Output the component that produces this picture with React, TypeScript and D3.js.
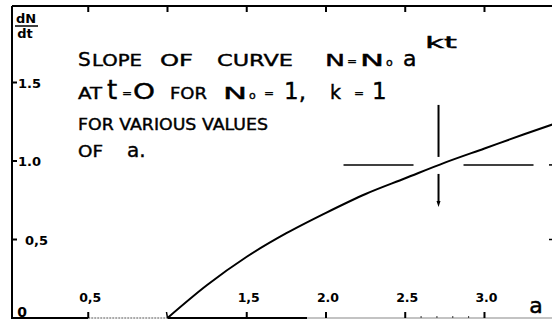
import React from "react";
import * as d3 from "d3";

// Slope of N = N0·a^(kt) at t = 0, read against a
const aValues = [1.0, 1.25, 1.5, 1.75, 2.0, 2.25, 2.5, 2.75, 3.0, 3.25, 3.45];
const slopeValues = [0.0, 0.21, 0.39, 0.54, 0.67, 0.79, 0.89, 0.99, 1.08, 1.17, 1.24];

const xTickValues = [0.5, 1.0, 1.5, 2.0, 2.5, 3.0];
const xTickLabels = ["0,5", "", "1,5", "2.0", "2.5", "3.0"];
const yTickValues = [0.5, 1.0, 1.5];
const yTickLabels = ["0,5", "1.0", "1.5"];
const minorTicks = [2.6, 2.7, 2.8, 2.9];

// crossing point marked on the curve
const crossA = 2.71;
const crossV = 0.975;

const W = 552;
const H = 320;
const FONT = "'DejaVu Sans', sans-serif";

export default function App() {
  const x = d3.scaleLinear().domain([0, 3.426]).range([9, W]);
  const y = d3.scaleLinear().domain([0, 1.5]).range([318, 82.5]);
  const left = 12;
  const top = 6;
  const bottom = 318;

  const line = d3
    .line<number>()
    .x((_, i) => x(aValues[i]))
    .y((d) => y(d))
    .curve(d3.curveMonotoneX);

  const cx = x(crossA);
  const cy = y(crossV);
  const tipX = x(aValues[0]);

  return (
    <div style={{ position: "absolute", left: 0, top: 0, width: W, height: H, background: "#fff" }}>
      <svg width={W} height={H} style={{ display: "block" }}>
        <rect width={W} height={H} fill="#fff" />
        {/* frame */}
        <line x1={left} y1={top} x2={W} y2={top} stroke="#000" strokeWidth={2} />
        <line x1={left} y1={top} x2={left} y2={bottom + 1} stroke="#000" strokeWidth={2} />
        <line x1={left} y1={bottom} x2={x(0.5)} y2={bottom} stroke="#000" strokeWidth={2} />
        <line x1={x(0.5)} y1={bottom} x2={tipX} y2={bottom} stroke="#555" strokeWidth={1.2} strokeDasharray="2 1" />
        <line x1={tipX} y1={bottom} x2={307} y2={bottom} stroke="#000" strokeWidth={2} />
        <line x1={307} y1={bottom} x2={W} y2={bottom} stroke="#888" strokeWidth={1.2} />

        {/* top ticks */}
        {xTickValues.map((v) => (
          <line key={"tt" + v} x1={x(v)} y1={top} x2={x(v)} y2={top + 6} stroke="#000" strokeWidth={2} />
        ))}
        {/* bottom ticks */}
        {xTickValues
          .filter((v) => v !== 1.0)
          .map((v) => (
            <line key={"bt" + v} x1={x(v)} y1={bottom} x2={x(v)} y2={bottom - 6} stroke="#000" strokeWidth={2} />
          ))}
        {minorTicks.map((v) => (
          <line key={"mt" + v} x1={x(v)} y1={bottom} x2={x(v)} y2={bottom - 2} stroke="#333" strokeWidth={1} />
        ))}
        {xTickValues.map((v, i) =>
          xTickLabels[i] ? (
            <text
              key={"xl" + v}
              x={x(v) + 2}
              y={302}
              textAnchor="middle"
              fontFamily={FONT}
              fontWeight="bold"
              fontSize={12.5}
            >
              {xTickLabels[i]}
            </text>
          ) : null
        )}
        <text x={536} y={313} textAnchor="middle" fontFamily={FONT} fontSize={22} stroke="#000" strokeWidth={0.5}>
          a
        </text>

        {/* left ticks */}
        {yTickValues.map((v, i) => (
          <g key={"yt" + v}>
            <line x1={left} y1={y(v)} x2={left + 5} y2={y(v)} stroke="#000" strokeWidth={2} />
            <text
              x={v === 0.5 ? 25 : 18}
              y={y(v) + 5}
              fontFamily={FONT}
              fontWeight="bold"
              fontSize={13}
            >
              {yTickLabels[i]}
            </text>
          </g>
        ))}
        <text x={22} y={317} textAnchor="middle" fontFamily={FONT} fontWeight="bold" fontSize={14}>
          0
        </text>
        {/* right edge ticks */}
        {[crossV, 0.5].map((v) => (
          <line key={"rt" + v} x1={W - 3} y1={y(v)} x2={W} y2={y(v)} stroke="#000" strokeWidth={1.5} />
        ))}

        {/* dN/dt */}
        <text x={26} y={23} textAnchor="middle" fontFamily={FONT} fontWeight="bold" fontSize={13}>
          dN
        </text>
        <line x1={15} y1={26} x2={38} y2={26} stroke="#000" strokeWidth={1.5} />
        <text x={25} y={38} textAnchor="middle" fontFamily={FONT} fontWeight="bold" fontSize={13}>
          dt
        </text>

        {/* curve */}
        <path d={line(slopeValues) ?? ""} fill="none" stroke="#000" strokeWidth={2} />
        <line x1={tipX} y1={bottom} x2={tipX - 1} y2={bottom - 6} stroke="#000" strokeWidth={1.5} />

        {/* crosshair at the crossing point */}
        <line x1={cx} y1={cy - 60} x2={cx} y2={cy - 8} stroke="#000" strokeWidth={2} />
        <line x1={cx} y1={cy + 9} x2={cx} y2={cy + 38} stroke="#000" strokeWidth={2} />
        <path d={`M${cx - 2},${cy + 36} L${cx + 2},${cy + 36} L${cx},${cy + 42} Z`} fill="#000" />
        <line x1={cx - 95} y1={cy} x2={cx - 25} y2={cy} stroke="#000" strokeWidth={1.5} />
        <line x1={cx + 25} y1={cy} x2={cx + 95} y2={cy} stroke="#000" strokeWidth={1.5} />

        {/* annotation */}
        <g fontFamily={FONT} fill="#000" stroke="#000" strokeWidth={0.4}>
          <text x={78} y={66} fontSize={20}>S</text>
          <text x={92} y={66} fontSize={15} textLength={50} lengthAdjust="spacingAndGlyphs">LOPE</text>
          <text x={160} y={66} fontSize={15} textLength={33} lengthAdjust="spacingAndGlyphs">OF</text>
          <text x={217} y={66} fontSize={16} textLength={76} lengthAdjust="spacingAndGlyphs">CURVE</text>
          <text x={325} y={66} fontSize={16} textLength={20} lengthAdjust="spacingAndGlyphs">N</text>
          <text x={347} y={65} fontSize={12}>=</text>
          <text x={360} y={66} fontSize={16} textLength={24} lengthAdjust="spacingAndGlyphs">N</text>
          <text x={386} y={66} fontSize={11}>o</text>
          <text x={403} y={66} fontSize={22}>a</text>
          <text x={425} y={48} fontSize={15} textLength={32} lengthAdjust="spacingAndGlyphs">kt</text>

          <text x={78} y={99} fontSize={15} textLength={24} lengthAdjust="spacingAndGlyphs">AT</text>
          <text x={107} y={99} fontSize={26}>t</text>
          <text x={122} y={97} fontSize={12}>=</text>
          <text x={133} y={99} fontSize={21} textLength={22} lengthAdjust="spacingAndGlyphs">O</text>
          <text x={170} y={99} fontSize={15} textLength={37} lengthAdjust="spacingAndGlyphs">FOR</text>
          <text x={223} y={99} fontSize={16} textLength={24} lengthAdjust="spacingAndGlyphs">N</text>
          <text x={249} y={99} fontSize={11}>o</text>
          <text x={264} y={97} fontSize={12}>=</text>
          <text x={284} y={99} fontSize={23}>1,</text>
          <text x={330} y={99} fontSize={19}>k</text>
          <text x={354} y={97} fontSize={12}>=</text>
          <text x={372} y={99} fontSize={23}>1</text>

          <text x={78} y={130} fontSize={15} textLength={190} lengthAdjust="spacingAndGlyphs">FOR VARIOUS VALUES</text>
          <text x={78} y={157} fontSize={15} textLength={25} lengthAdjust="spacingAndGlyphs">OF</text>
          <text x={127} y={157} fontSize={20}>a.</text>
        </g>
      </svg>
    </div>
  );
}
